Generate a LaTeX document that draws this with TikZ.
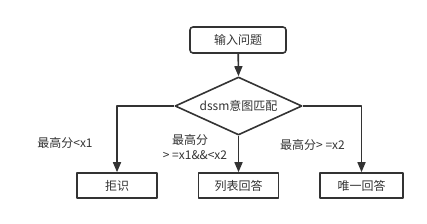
\documentclass[tikz,border=0pt]{standalone}
\usepackage{fontspec}
\setmainfont{Noto Sans CJK SC}
\usetikzlibrary{arrows.meta,shapes.geometric}
\definecolor{ink}{HTML}{333333}

\begin{document}
\begin{tikzpicture}[x=1pt,y=-1pt,line join=round,
  box/.style={draw=ink,line width=1.6pt,minimum height=25pt,inner sep=0pt,font=\fontsize{12}{14}\selectfont,text=ink},
  flow/.style={draw=ink,line width=1.6pt,-{Triangle[length=10pt,width=8pt]}},
  cond/.style={font=\fontsize{12}{14}\selectfont,text=ink,inner sep=0pt}]
  \useasboundingbox (0,0) rectangle (427,223);
  % start, decision, three outcomes
  \node[box,rounded corners=3pt,minimum width=96pt,minimum height=26pt] (start) at (238,40) {输入问题};
  \node[box,diamond,aspect=2.2,minimum width=127pt,minimum height=58pt] (match) at (238.5,106) {dssm意图匹配};
  \node[box,minimum width=80pt] (reject) at (117,185.5) {拒识};
  \node[box,minimum width=80pt] (list) at (238.5,185.5) {列表回答};
  \node[box,minimum width=83pt] (single) at (361.5,185.5) {唯一回答};
  \draw[flow] (start) -- (match.north);
  \draw[flow] (match.west) -| (reject.north);
  \draw[flow] (match.south) -- (list.north);
  \draw[flow] (match.east) -| (single.north);
  % branch conditions
  \node[cond] (lowlbl) at (65,143) {最高分<x1};
  \node[cond] (midlbl) at (190,140) {最高分};
  \node[cond] (midlbl2) at (195,155) {> =x1\&\&<x2};
  \node[cond] (highlbl) at (312.5,145) {最高分> =x2};
\end{tikzpicture}
\end{document}
